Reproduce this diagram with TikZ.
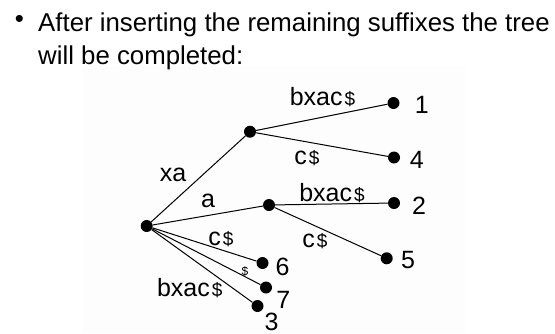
\documentclass[tikz,border=0pt]{standalone}
\usepackage{fontspec}
\setmainfont{Liberation Sans}
\newcommand\dol{{\hspace{2pt}\fontsize{19}{19}\selectfont\$}}
\begin{document}
\begin{tikzpicture}[x=1pt,y=-1pt,
  dot/.style={circle,fill=black,inner sep=0pt,minimum size=12pt},
  num/.style={inner sep=0pt,font=\fontsize{25}{25}\selectfont},
  lbl/.style={inner sep=0pt,anchor=base,font=\fontsize{25}{25}\selectfont},
  edge/.style={line width=1pt},
  title/.style={inner sep=0pt,anchor=base west,font=\fontsize{25.8}{30}\selectfont}]
\useasboundingbox (0,0) rectangle (555,333);
\fill[black!0.8] (83,67) rectangle (465,333);
% title
\node[inner sep=0pt,font=\fontsize{25.8}{30}\selectfont] (bul) at (19.5,21.5) {•};
\node[title] (t1) at (38,31) {After inserting the remaining suffixes the tree};
\node[title] (t2) at (38,64.5) {will be completed:};
% tree nodes
\node[dot] (r) at (146.7,226) {};
\node[dot] (n1) at (250,131.7) {};
\node[dot] (n2) at (269,205) {};
\node[dot] (l1) at (393.5,103) {};
\node[dot] (l4) at (394,157.5) {};
\node[dot] (l2) at (394,203) {};
\node[dot] (l5) at (386.7,258.3) {};
\node[dot] (l6) at (262.5,263) {};
\node[dot] (l7) at (266,287.5) {};
\node[dot] (l3) at (257.5,306) {};
% edges
\draw[edge] (r) -- (n1);
\draw[edge] (r) -- (n2);
\draw[edge] (r) -- (l6);
\draw[edge] (r) -- (l7);
\draw[edge] (r) -- (l3);
\draw[edge] (n1) -- (l1);
\draw[edge] (n1) -- (l4);
\draw[edge] (n2) -- (l2);
\draw[edge] (n2) -- (l5);
% leaf numbers
\node[num] (k1) at (421.7,104.5) {1};
\node[num] (k4) at (416.7,160) {4};
\node[num] (k2) at (419,206) {2};
\node[num] (k5) at (408,260) {5};
\node[num] (k6) at (282.7,266.7) {6};
\node[num] (k7) at (283.3,300) {7};
\node[num,anchor=north] (k3) at (271.7,313) {3};
% edge labels
\node[lbl] (e1) at (322.5,105) {bxac\dol};
\node[lbl] (e2) at (307,164) {c\dol};
\node[lbl] (e3) at (332,201) {bxac\dol};
\node[lbl] (e4) at (315,247.5) {c\dol};
\node[lbl] (e5) at (173,181) {xa};
\node[lbl] (e6) at (208,207) {a};
\node[lbl] (e7) at (221,245) {c\dol};
\node[inner sep=0pt,font=\fontsize{12}{12}\selectfont] (e8) at (245,271) {\$};
\node[lbl] (e9) at (189.7,296) {bxac\dol};
\end{tikzpicture}
\end{document}
